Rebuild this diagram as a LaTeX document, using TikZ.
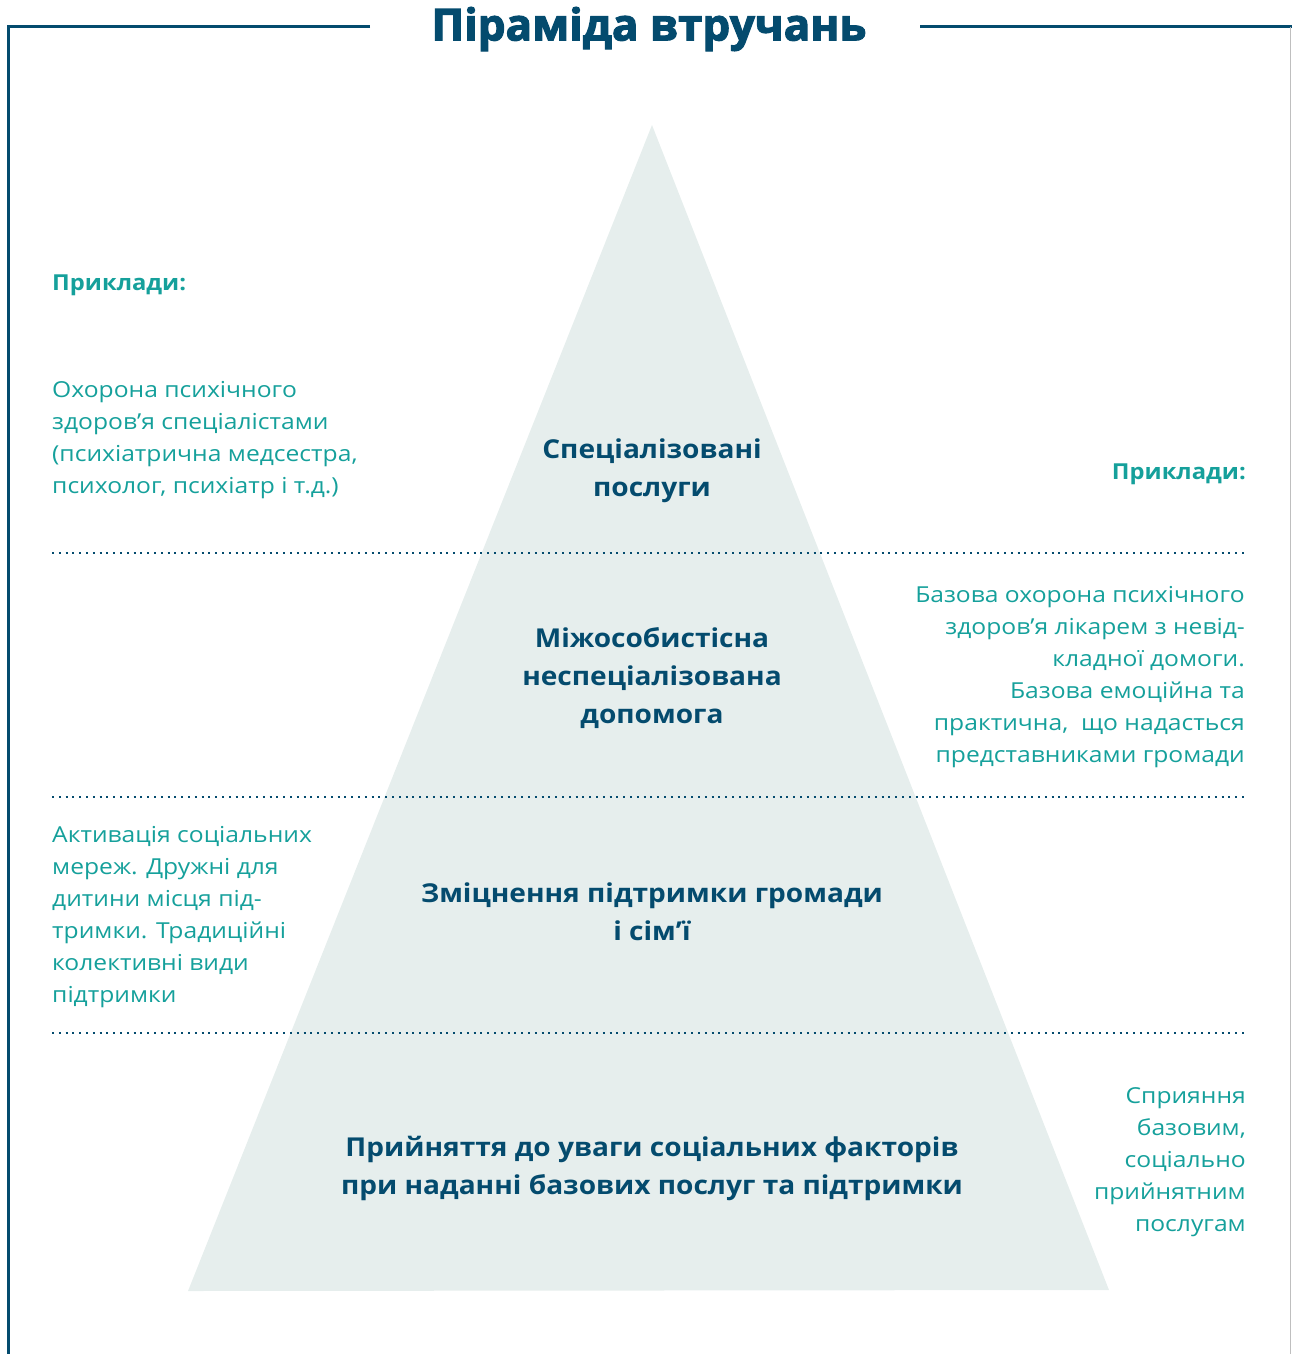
\documentclass[tikz,border=0pt]{standalone}
\usepackage{fontspec}
\setmainfont{Open Sans}[FakeStretch=1.12, BoldFeatures={FakeStretch=1.08}]
\newfontfamily\titlefont[FakeBold=2.5]{Open Sans}
\usetikzlibrary{positioning}

\definecolor{navy}{HTML}{044B6E}
\definecolor{exteal}{HTML}{15A09B}
\definecolor{pyrfill}{HTML}{E6EEED}

\begin{document}
\begin{tikzpicture}[
    x=1pt, y=-1pt,
    level/.style={text=navy,
        font=\fontsize{26}{38}\selectfont\bfseries,
        align=center,
        inner sep=0pt},
    note/.style={text=exteal,
        font=\fontsize{22}{32}\selectfont,
        inner sep=0pt},
    heading/.style={note,
        font=\fontsize{22}{32}\selectfont\bfseries},
    sep/.style={navy, line width=2pt, dash pattern=on 2pt off 4.8pt},
    frame/.style={navy, line width=3pt},
    ]

    \useasboundingbox (0,0) rectangle (1292,1354);

    % frame and title
    \node [text=navy, font=\titlefont\bfseries\fontsize{44}{50}\selectfont, inner sep=0pt] (title) at (649,29) {Піраміда втручань};
    \draw[frame] (370,27) -- (8,27) -- (8,1354);
    \draw[frame] (920,27) -- (1292,27);
    \draw[black!25, line width=1pt] (1290,27) -- (1290,1354);

    % pyramid
    \coordinate (apex) at (652,125);
    \coordinate (baseR) at (1109,1290);
    \coordinate (baseL) at (188,1291);
    \fill[pyrfill] (apex) -- (baseR) -- (baseL) -- cycle;

    % separators
    \foreach \y/\n in {553/sepA, 797/sepB, 1033/sepC} {
        \coordinate (\n w) at (52,\y);
        \coordinate (\n e) at (1247,\y);
        \draw[sep] (\n w) -- (\n e);
    }

    % levels
    \node [level] (specialised) at (652,471) {Спеціалізовані\\послуги};
    \node [level] (interpersonal) at (652,678) {Міжособистісна\\неспеціалізована\\допомога};
    \node [level] (community) at (652,912) {Зміцнення підтримки громади\\і сім’ї};
    \node [level] (basic) at (652,1168) {Прийняття до уваги соціальних факторів\\при наданні базових послуг та підтримки};

    % examples
    \node [heading, anchor=west] (examplesL) at (52,285) {Приклади:};
    \node [note, anchor=west, align=left] (noteA) at (52,440)
        {Охорона психічного\\здоров’я спеціалістами\\(психіатрична медсестра,\\психолог, психіатр і т.д.)};
    \node [heading, anchor=east] (examplesR) at (1246,474) {Приклади:};
    \node [note, anchor=east, align=right] (noteB) at (1245,677)
        {Базова охорона психічного\\здоров’я лікарем з невід-\\кладної домоги.\\Базова емоційна та\\практична,\ \ що надасться\\представниками громади};
    \node [note, anchor=west, align=left] (noteC) at (52,917)
        {Активація соціальних\\мереж. Дружні для\\дитини місця під-\\тримки. Традиційні\\колективні види\\підтримки};
    \node [note, anchor=east, align=right] (noteD) at (1246,1162)
        {Сприяння\\базовим,\\соціально\\прийнятним\\послугам};
\end{tikzpicture}
\end{document}
